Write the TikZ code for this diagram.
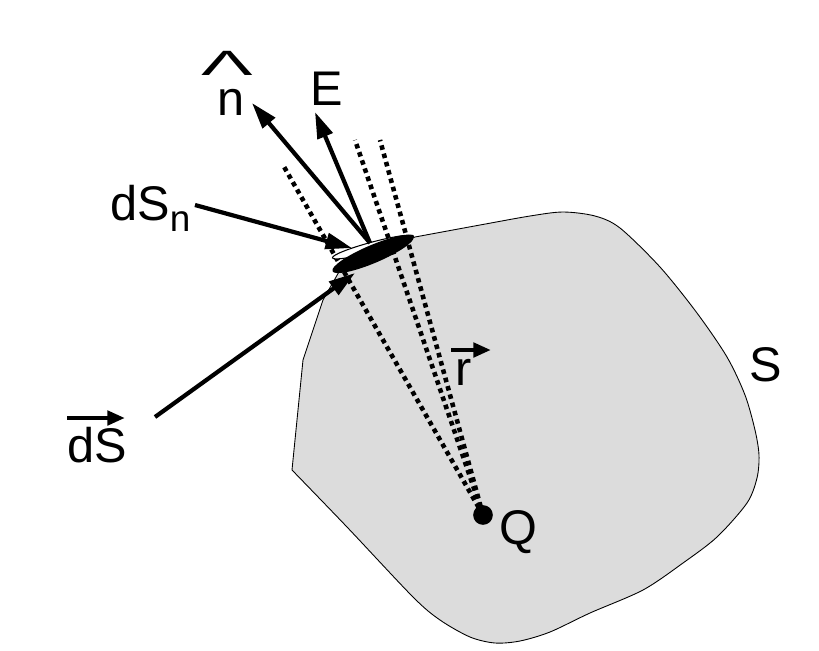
\documentclass[tikz,border=0pt]{standalone}
\usepackage{fontspec}
\setmainfont{Liberation Sans}
\usetikzlibrary{arrows.meta}
\definecolor{surfgray}{RGB}{220,220,220}
\tikzset{
  vecarrow/.style={line width=2.4pt, -{Triangle[length=15pt,width=9pt]}},
  ray/.style={line width=2.6pt, dash pattern=on 2.6pt off 2.3pt},
  lbl/.style={font=\fontsize{27.7}{30}\selectfont, inner sep=0pt},
  overbar/.style={line width=2.6pt, -{Triangle[length=10pt,width=8pt]}}
}
\begin{document}
\begin{tikzpicture}[x=0.02cm,y=-0.02cm]
\useasboundingbox (0,0) rectangle (819,650);
\coordinate (O) at (370,243);
\coordinate (Q) at (483,515);
\coordinate (ntip) at (252,103);
\coordinate (Etip) at (315,112);
\coordinate (dSntail) at (195,205);
\coordinate (dSntip) at (352,248);
\coordinate (dStail) at (155,417);
\coordinate (dStip) at (355,273);
\coordinate (rayA) at (283,165);
\coordinate (rayB) at (355,140);
\coordinate (rayC) at (380,140);
\draw[fill=surfgray, line width=0.5pt] plot[smooth, tension=0.5] coordinates {(415,237) (480,225) (530,216) (563,212) (595,216) (620,228) (660,267) (697,313) (727,357) (745,395) (755,430) (759,455) (757,478) (747,503) (717,537) (683,563) (643,590) (590,613) (550,632) (520,641) (495,643) (470,637) (440,620) (413,597) (347,527) (292,470)} -- (303,360) -- (323,300) -- (340,270) -- cycle;
\draw[ray] (Q) -- (rayA);
\draw[ray] (Q) -- (rayB);
\draw[ray] (Q) -- (rayC);
\draw[fill=white, line width=0.6pt, rotate around={15:(373,247)}] (373,247) ellipse (42 and 5);
\fill[black, rotate around={23:(373,254)}] (373,254) ellipse (44 and 9);
\draw[vecarrow] (O) -- (ntip);
\draw[vecarrow] (O) -- (Etip);
\draw[vecarrow] (dSntail) -- (dSntip);
\draw[vecarrow] (dStail) -- (dStip);
\fill[black] (Q) circle (5.6pt);
\node[lbl] (n) at (231,102) {n};
\node[lbl] (nhat) at (227,63) {\scalebox{2.2}[1]{\fontsize{20}{20}\selectfont Λ}};
\node[lbl] (E) at (327,89) {E};
\node[lbl, anchor=base west] (dSn) at (110,220) {dS\raisebox{-0.45ex}{\fontsize{21}{21}\selectfont n}};
\node[lbl] (dS) at (97,445) {dS};
\node[lbl] (r) at (464,372) {r};
\node[lbl] (Qlbl) at (518,532) {Q};
\node[lbl] (S) at (766,365) {S};
\draw[overbar] (67,418) -- (125,418);
\draw[overbar] (451,350) -- (491,350);
\end{tikzpicture}
\end{document}
